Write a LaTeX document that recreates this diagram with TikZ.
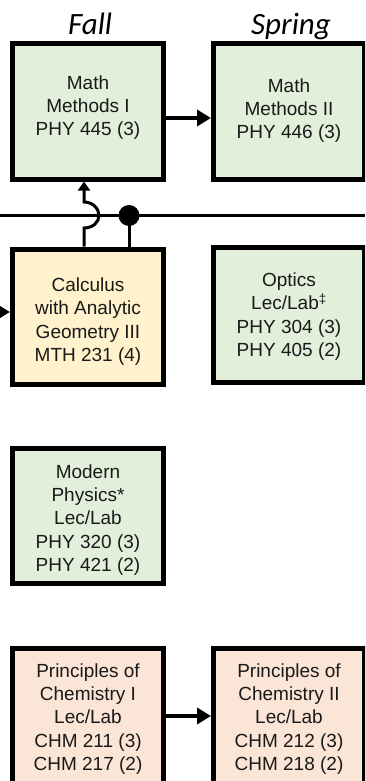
\documentclass[tikz,border=0pt]{standalone}
\usepackage{fontspec}
\setmainfont{Liberation Sans}
\newfontfamily\calib{Carlito}
\usetikzlibrary{arrows.meta}
\definecolor{boxgreen}{RGB}{226,239,218}
\definecolor{boxyellow}{RGB}{255,242,204}
\definecolor{boxpeach}{RGB}{251,229,214}
\tikzset{
 course/.style={draw=black, line width=5pt, minimum width=151pt, minimum height=135pt, inner sep=0pt},
 coursetext/.style={align=center, inner sep=0pt, font=\fontsize{19}{23.4}\selectfont, text=black!90},
 sem/.style={font=\calib\itshape\fontsize{31}{36}\selectfont, anchor=base, inner sep=0pt},
 bigarrow/.style={line width=3.5pt, -{Triangle[length=14pt,width=16pt]}},
 link/.style={line width=3pt},
 uparrow/.style={line width=3pt, -{Triangle[length=9pt,width=12pt]}},
}
\begin{document}
\begin{tikzpicture}[x=1pt,y=-1pt]
\useasboundingbox (0,0) rectangle (365,781);
\clip (0,0) rectangle (365,781);
\node[sem] (fall) at (90,35) {Fall};
\node[sem] (spring) at (291,35) {Spring};
% boxes
\node[course, fill=boxgreen] (math1) at (88,111.5) {};
\node[course, fill=boxgreen] (math2) at (289,111.5) {};
\node[course, fill=boxyellow] (calc) at (88,316.5) {};
\node[course, fill=boxgreen] (optics) at (289,315) {};
\node[course, fill=boxgreen] (modern) at (88,516) {};
\node[course, fill=boxpeach] (chem1) at (88,716) {};
\node[course, fill=boxpeach] (chem2) at (289,716) {};
% texts
\node[coursetext] (math1t) at ([yshift=4pt]math1.center) {Math\\Methods I\\PHY 445 (3)};
\node[coursetext] (math2t) at ([yshift=1pt]math2.center) {Math\\Methods II\\PHY 446 (3)};
\node[coursetext] (calct) at ([yshift=-5pt]calc.center) {Calculus\\with Analytic\\Geometry III\\MTH 231 (4)};
\node[coursetext] (opticst) at ([yshift=-1.5pt]optics.center) {Optics\\Lec/Lab\textsuperscript{‡}\\PHY 304 (3)\\PHY 405 (2)};
\node[coursetext] (modernt) at ([yshift=-4pt]modern.center) {Modern\\Physics*\\Lec/Lab\\PHY 320 (3)\\PHY 421 (2)};
\node[coursetext] (chem1t) at ([yshift=-3pt]chem1.center) {Principles of\\Chemistry I\\Lec/Lab\\CHM 211 (3)\\CHM 217 (2)};
\node[coursetext] (chem2t) at ([yshift=-3pt]chem2.center) {Principles of\\Chemistry II\\Lec/Lab\\CHM 212 (3)\\CHM 218 (2)};
% arrows between semesters
\draw[bigarrow] ([yshift=-6.5pt]math1.east) -- ([yshift=-6.5pt]math2.west);
\draw[bigarrow] (chem1.east) -- (chem2.west);
% bus line
\coordinate (busL) at (0,215.5);
\coordinate (busR) at (365,215.5);
\draw[link] (busL) -- (busR);
\node[circle, fill=black, minimum size=21pt, inner sep=0pt] (dot) at (129,215.5) {};
\draw[link] (dot.center) -- (calc.north -| dot);
% hop over line
\coordinate (hb) at (84,228);
\coordinate (ht) at (84,202);
\draw[uparrow] (calc.north -| hb) -- (hb) .. controls (93,228) and (99,222) .. (99,215.5) .. controls (99,209) and (93,202) .. (ht) -- (math1.south -| ht);
% arrow from left into calculus
\coordinate (fromleft) at (-30,312);
\draw[bigarrow] (fromleft) -- (fromleft -| calc.west);
\end{tikzpicture}
\end{document}
